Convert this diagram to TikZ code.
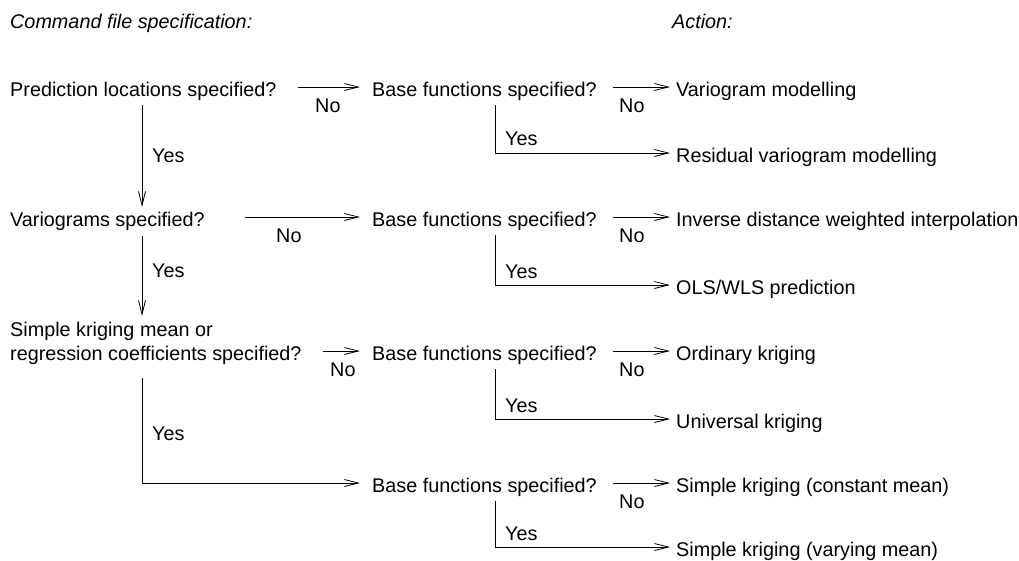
\documentclass[tikz,border=0pt]{standalone}
\usepackage{fontspec}
\setmainfont{Liberation Sans}
\usetikzlibrary{arrows.meta,calc}
\newcommand{\fsz}{\fontsize{19.8}{24}\selectfont}
\tikzset{
  lbl/.style={anchor=base west, inner sep=0pt, font=\fsz},
  hdr/.style={lbl, font=\fsz\itshape},
  arr/.style={-{Straight Barb[length=14pt,width=7pt]}, line width=0.8pt},
}
\begin{document}
\begin{tikzpicture}[x=1pt,y=-1pt]
\useasboundingbox (0,0) rectangle (1019,560);
% headers
\node[hdr] (h1) at (10,28) {Command file specification:};
\node[hdr] (h2) at (672,28) {Action:};
% questions
\node[lbl] (q1) at (10,96) {Prediction locations specified?};
\node[lbl] (q2) at (10,226) {Variograms specified?};
\node[lbl, align=left] (q3) at (10,360) {Simple kriging mean or\\regression coefficients specified?};
% base function questions
\node[lbl] (b1) at (372,96) {Base functions specified?};
\node[lbl] (b2) at (372,226) {Base functions specified?};
\node[lbl] (b3) at (372,360) {Base functions specified?};
\node[lbl] (b4) at (372,492) {Base functions specified?};
% actions
\node[lbl] (a1) at (676,96) {Variogram modelling};
\node[lbl] (a2) at (676,162) {Residual variogram modelling};
\node[lbl] (a3) at (676,226) {Inverse distance weighted interpolation};
\node[lbl] (a4) at (676,294) {OLS/WLS prediction};
\node[lbl] (a5) at (676,360) {Ordinary kriging};
\node[lbl] (a6) at (676,428) {Universal kriging};
\node[lbl] (a7) at (676,492) {Simple kriging (constant mean)};
\node[lbl] (a8) at (676,556) {Simple kriging (varying mean)};
% No labels
\node[lbl] (n1) at (315,112) {No};
\node[lbl] (n2) at (276,242) {No};
\node[lbl] (n3) at (330,376) {No};
\node[lbl] (n4) at (619,112) {No};
\node[lbl] (n5) at (619,242) {No};
\node[lbl] (n6) at (619,376) {No};
\node[lbl] (n7) at (619,508) {No};
% Yes labels
\node[lbl] (y1) at (152,162) {Yes};
\node[lbl] (y2) at (152,277) {Yes};
\node[lbl] (y3) at (152,440) {Yes};
\node[lbl] (y4) at (505,145) {Yes};
\node[lbl] (y5) at (505,278) {Yes};
\node[lbl] (y6) at (505,412) {Yes};
\node[lbl] (y7) at (505,540) {Yes};
% No connectors (left column)
\draw[arr] ([shift={(21,-9)}]q1.base east) -- ([shift={(-12,-9)}]b1.base west);
\draw[arr] ([shift={(40,-9)}]q2.base east) -- ([shift={(-12,-9)}]b2.base west);
\draw[arr] ([shift={(21,-9)}]q3.base east) -- ([shift={(-12,-9)}]b3.base west);
% No connectors (right column)
\draw[arr] ([shift={(16,-9)}]b1.base east) -- ([shift={(-6,-9)}]a1.base west);
\draw[arr] ([shift={(16,-9)}]b2.base east) -- ([shift={(-6,-9)}]a3.base west);
\draw[arr] ([shift={(16,-9)}]b3.base east) -- ([shift={(-6,-9)}]a5.base west);
\draw[arr] ([shift={(16,-9)}]b4.base east) -- ([shift={(-6,-9)}]a7.base west);
% Yes connectors (right column)
\draw[arr] ([shift={(123,9)}]b1.base west) |- ([shift={(-6,-9)}]a2.base west);
\draw[arr] ([shift={(123,9)}]b2.base west) |- ([shift={(-6,-9)}]a4.base west);
\draw[arr] ([shift={(123,9)}]b3.base west) |- ([shift={(-6,-9)}]a6.base west);
\draw[arr] ([shift={(123,9)}]b4.base west) |- ([shift={(-6,-9)}]a8.base west);
% Yes connectors (left column)
\draw[arr] ([shift={(132,9)}]q1.base west) -- ([shift={(132,-19)}]q2.base west);
\draw[arr] ([shift={(132,10)}]q2.base west) -- ([shift={(132,-44)}]q3.base west);
\draw[arr] ([shift={(132,18)}]q3.base west) |- ([shift={(-12,-9)}]b4.base west);
\end{tikzpicture}
\end{document}
